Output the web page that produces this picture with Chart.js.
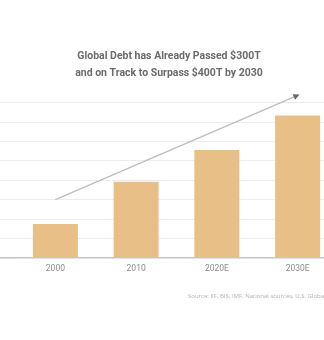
<!DOCTYPE html>
<html>
<head>
<meta charset="utf-8">
<script src="https://cdn.jsdelivr.net/npm/chart.js@4.4.0/dist/chart.umd.min.js"></script>
<style>
    html, body { margin: 0; padding: 0; background: #fff; overflow: hidden; }
    #wrap { position: relative; width: 324px; height: 340px; overflow: hidden; }
    #debtChart { position: absolute; left: 0; top: 0; }
    #source {
        position: absolute; left: 188px; top: 292px;
        font: 6px "Open Sans", sans-serif; color: #b0b0b0;
        white-space: nowrap; filter: blur(0.5px);
    }
</style>
</head>
<body>
<div id="wrap">
    <canvas id="debtChart" width="340" height="340"></canvas>
    <div id="source">Source: IIF, BIS, IMF, National sources, U.S. Global Investors</div>
</div>
<script>
// 全球债务（万亿美元）
const categories = ['2000', '2010', '2020E', '2030E'];
const debtValues = [87, 196, 278, 367];
const yTicks = [0, 50, 100, 150, 200, 250, 300, 350, 400];
// 趋势箭头：从第一个类别到最后一个类别的数值
const trendLine = [150, 419];

// 趋势箭头插件
const trendArrow = {
    id: 'trendArrow',
    afterDatasetsDraw(chart) {
        const { ctx, scales: { x, y } } = chart;
        const x1 = x.getPixelForValue(0), y1 = y.getPixelForValue(trendLine[0]);
        const x2 = x.getPixelForValue(categories.length - 1), y2 = y.getPixelForValue(trendLine[1]);
        const ang = Math.atan2(y2 - y1, x2 - x1);
        ctx.save();
        ctx.strokeStyle = '#bdbdbd';
        ctx.lineWidth = 1.2;
        ctx.beginPath();
        ctx.moveTo(x1, y1);
        ctx.lineTo(x2, y2);
        ctx.stroke();
        ctx.fillStyle = '#666';
        ctx.translate(x2, y2);
        ctx.rotate(ang);
        ctx.beginPath();
        ctx.moveTo(2, 0);
        ctx.lineTo(-4, -3);
        ctx.lineTo(-4, 3);
        ctx.closePath();
        ctx.fill();
        ctx.restore();
    }
};

const ctx = document.getElementById('debtChart').getContext('2d');
new Chart(ctx, {
    type: 'bar',
    data: {
        labels: categories,
        datasets: [{
            data: debtValues,
            backgroundColor: '#e9bf88',
            borderWidth: 0,
            categoryPercentage: 1,
            barPercentage: 0.557
        }]
    },
    options: {
        responsive: false,
        animation: false,
        layout: { padding: { left: 0, right: 2, top: 0, bottom: 60 } },
        plugins: {
            legend: { display: false },
            tooltip: { enabled: false },
            title: {
                display: true,
                text: ['Global Debt has Already Passed $300T', 'and on Track to Surpass $400T by 2030'],
                color: '#6b6b6b',
                font: { family: 'Roboto', size: 10.5, weight: 'bold', lineHeight: '16.6px' },
                padding: { top: 48.4, bottom: 21.1 }
            }
        },
        scales: {
            x: {
                grid: { display: false, drawTicks: false },
                border: { display: false },
                ticks: { color: '#8a8a8a', font: { family: 'Roboto', size: 8.5 }, padding: 6 }
            },
            y: {
                min: 0,
                max: 400,
                afterBuildTicks(scale) {
                    scale.ticks = yTicks.map(v => ({ value: v }));
                },
                border: { display: false },
                grid: {
                    tickLength: 15,
                    color: c => c.tick && c.tick.value === 0 ? '#c6c6c6' : '#ececec',
                    lineWidth: c => c.tick && c.tick.value === 0 ? 1.6 : 1
                },
                ticks: { display: false }
            }
        }
    },
    plugins: [trendArrow]
});
</script>
</body>
</html>
